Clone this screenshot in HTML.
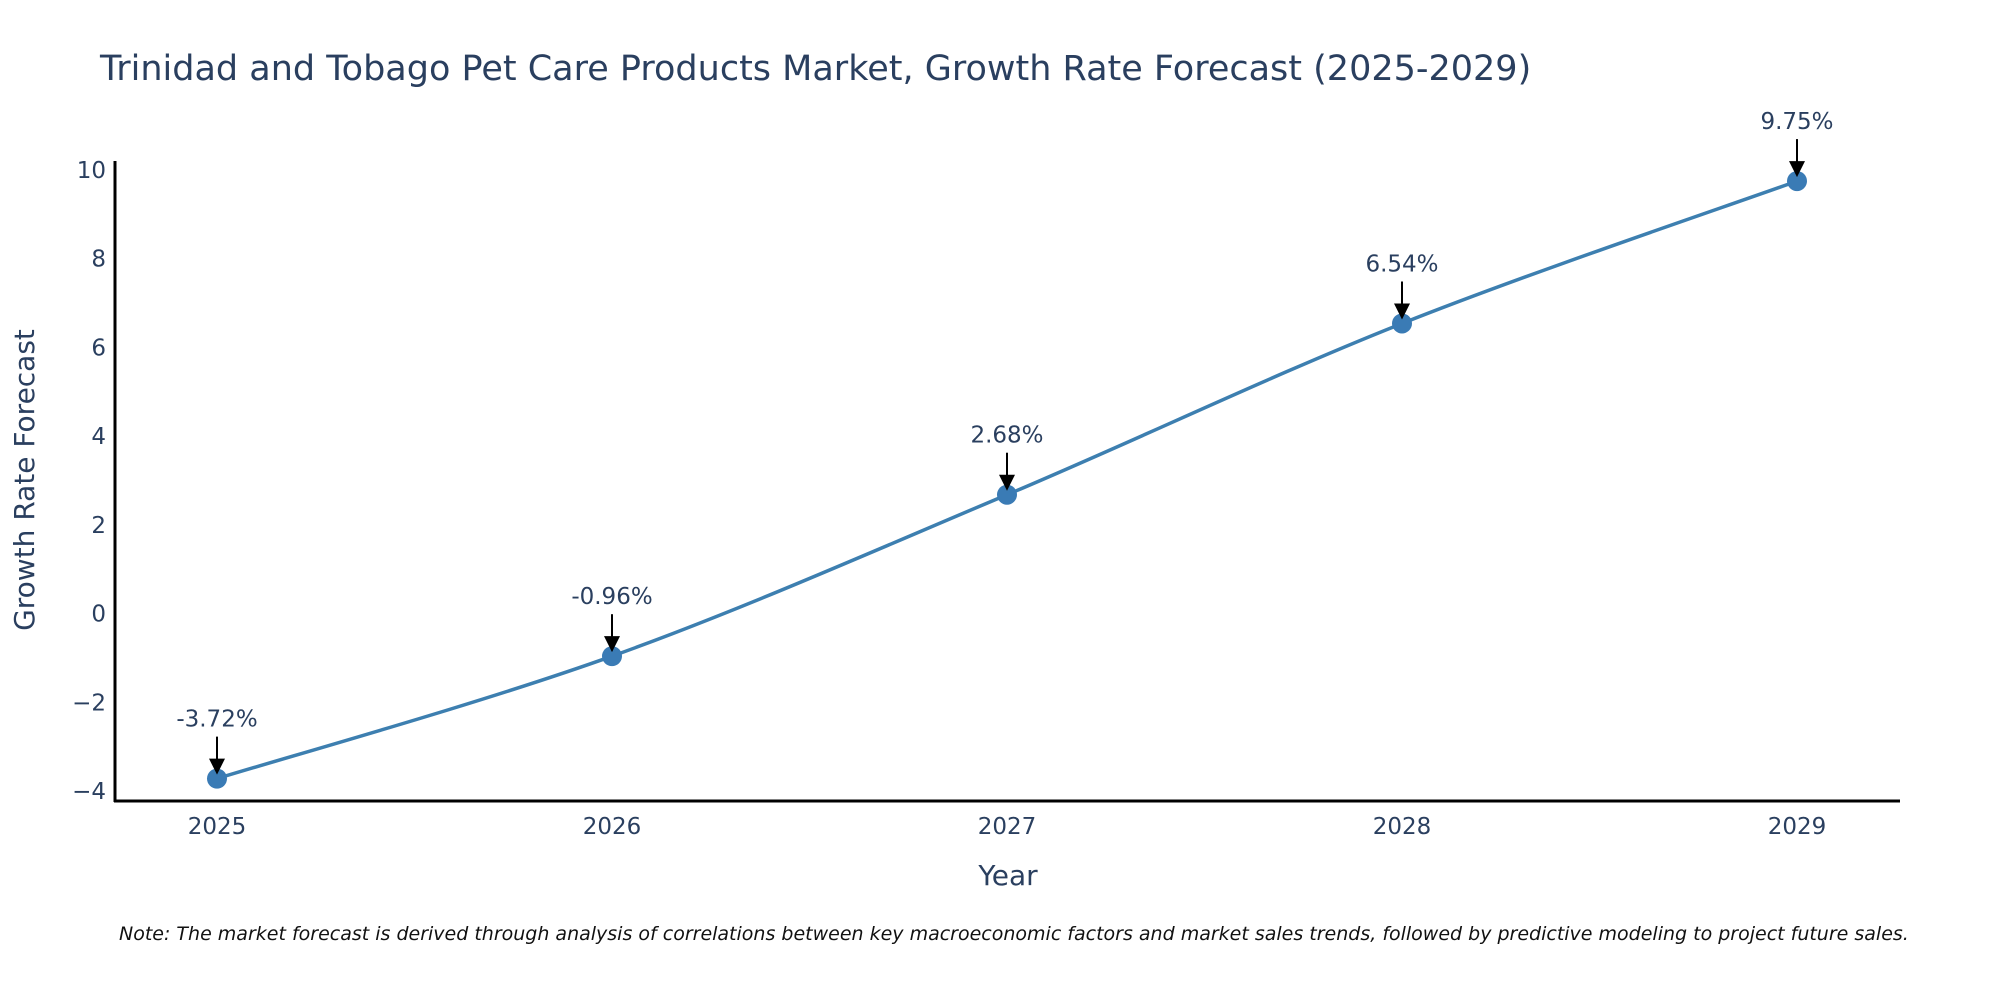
<!DOCTYPE html>
<html><head><meta charset="utf-8"><style>
html,body{margin:0;padding:0;background:#fff;}
svg{display:block;font-family:"DejaVu Sans","Liberation Sans",sans-serif;}
</style></head><body>
<svg id="chart" width="2000" height="1000" viewBox="0 0 2000 1000">
<text x="100" y="80" font-size="35" fill="#2a3f5f">Trinidad and Tobago Pet Care Products Market, Growth Rate Forecast (2025-2029)</text>
<g id="yticks"></g>
<g id="xticks"></g>
<line x1="115" y1="161" x2="115" y2="802" stroke="#000" stroke-width="3"/>
<line x1="114" y1="801" x2="1900" y2="801" stroke="#000" stroke-width="3"/>
<text transform="translate(34,480) rotate(-90)" text-anchor="middle" font-size="28" fill="#2a3f5f">Growth Rate Forecast</text>
<text x="1008" y="885" text-anchor="middle" font-size="28" fill="#2a3f5f">Year</text>
<path id="line" fill="none" stroke="#3d7fb0" stroke-width="3.5"/>
<g id="marks"></g>
<text x="119" y="940" font-size="19" font-style="italic" fill="#111">Note: The market forecast is derived through analysis of correlations between key macroeconomic factors and market sales trends, followed by predictive modeling to project future sales.</text>
</svg>
<script>
const categories = [2025, 2026, 2027, 2028, 2029];
const values = [-3.72, -0.96, 2.68, 6.54, 9.75];
const labels = ["-3.72%", "-0.96%", "2.68%", "6.54%", "9.75%"];
const yTicks = [-4, -2, 0, 2, 4, 6, 8, 10];
const yTickLabels = ["\u22124", "\u22122", "0", "2", "4", "6", "8", "10"];

const NS = "http://www.w3.org/2000/svg";
function xs(c){ return 217 + (c - 2025) * 395; }
function ys(v){ return 170 + (10 - v) * 44.36; }
function mk(tag, attrs, parent){ const e=document.createElementNS(NS,tag); for(const k in attrs) e.setAttribute(k,attrs[k]); parent.appendChild(e); return e; }

const yg=document.getElementById('yticks');
yTicks.forEach((t,i)=>{
  const e=mk('text',{x:106,y:ys(t)+8,'text-anchor':'end','font-size':23,fill:'#2a3f5f'},yg);
  
  
  e.textContent=yTickLabels[i];
});
const xg=document.getElementById('xticks');
categories.forEach(c=>{
  const e=mk('text',{x:xs(c),y:834,'text-anchor':'middle','font-size':23,fill:'#2a3f5f'},xg);
  
  
  e.textContent=String(c);
});

const pts=categories.map((c,i)=>[xs(c),ys(values[i])]);
let d='M'+pts[0][0]+','+pts[0][1];
for(let i=0;i<pts.length-1;i++){
  const p0=pts[Math.max(0,i-1)],p1=pts[i],p2=pts[i+1],p3=pts[Math.min(pts.length-1,i+2)];
  const k=1/6;
  const c1=[p1[0]+(p2[0]-p0[0])*k,p1[1]+(p2[1]-p0[1])*k];
  const c2=[p2[0]-(p3[0]-p1[0])*k,p2[1]-(p3[1]-p1[1])*k];
  d+=' C'+c1.join(',')+' '+c2.join(',')+' '+p2.join(',');
}
document.getElementById('line').setAttribute('d',d);

const mg=document.getElementById('marks');
pts.forEach((p,i)=>{
  const c=mk('circle',{cx:p[0],cy:p[1],r:10,fill:'#3a7bb5'},mg);
  
  
  const l=mk('line',{x1:p[0],y1:p[1]-42,x2:p[0],y2:p[1]-16,stroke:'#000','stroke-width':2},mg);
  
  
  const h=mk('polygon',{points:(p[0]-8)+','+(p[1]-20)+' '+(p[0]+8)+','+(p[1]-20)+' '+p[0]+','+(p[1]-4),fill:'#000'},mg);
  
  
  const t=mk('text',{x:p[0],y:p[1]-52,'text-anchor':'middle','font-size':23,fill:'#2a3f5f'},mg);
  
  
  t.textContent=labels[i];
});
</script>
</body></html>
